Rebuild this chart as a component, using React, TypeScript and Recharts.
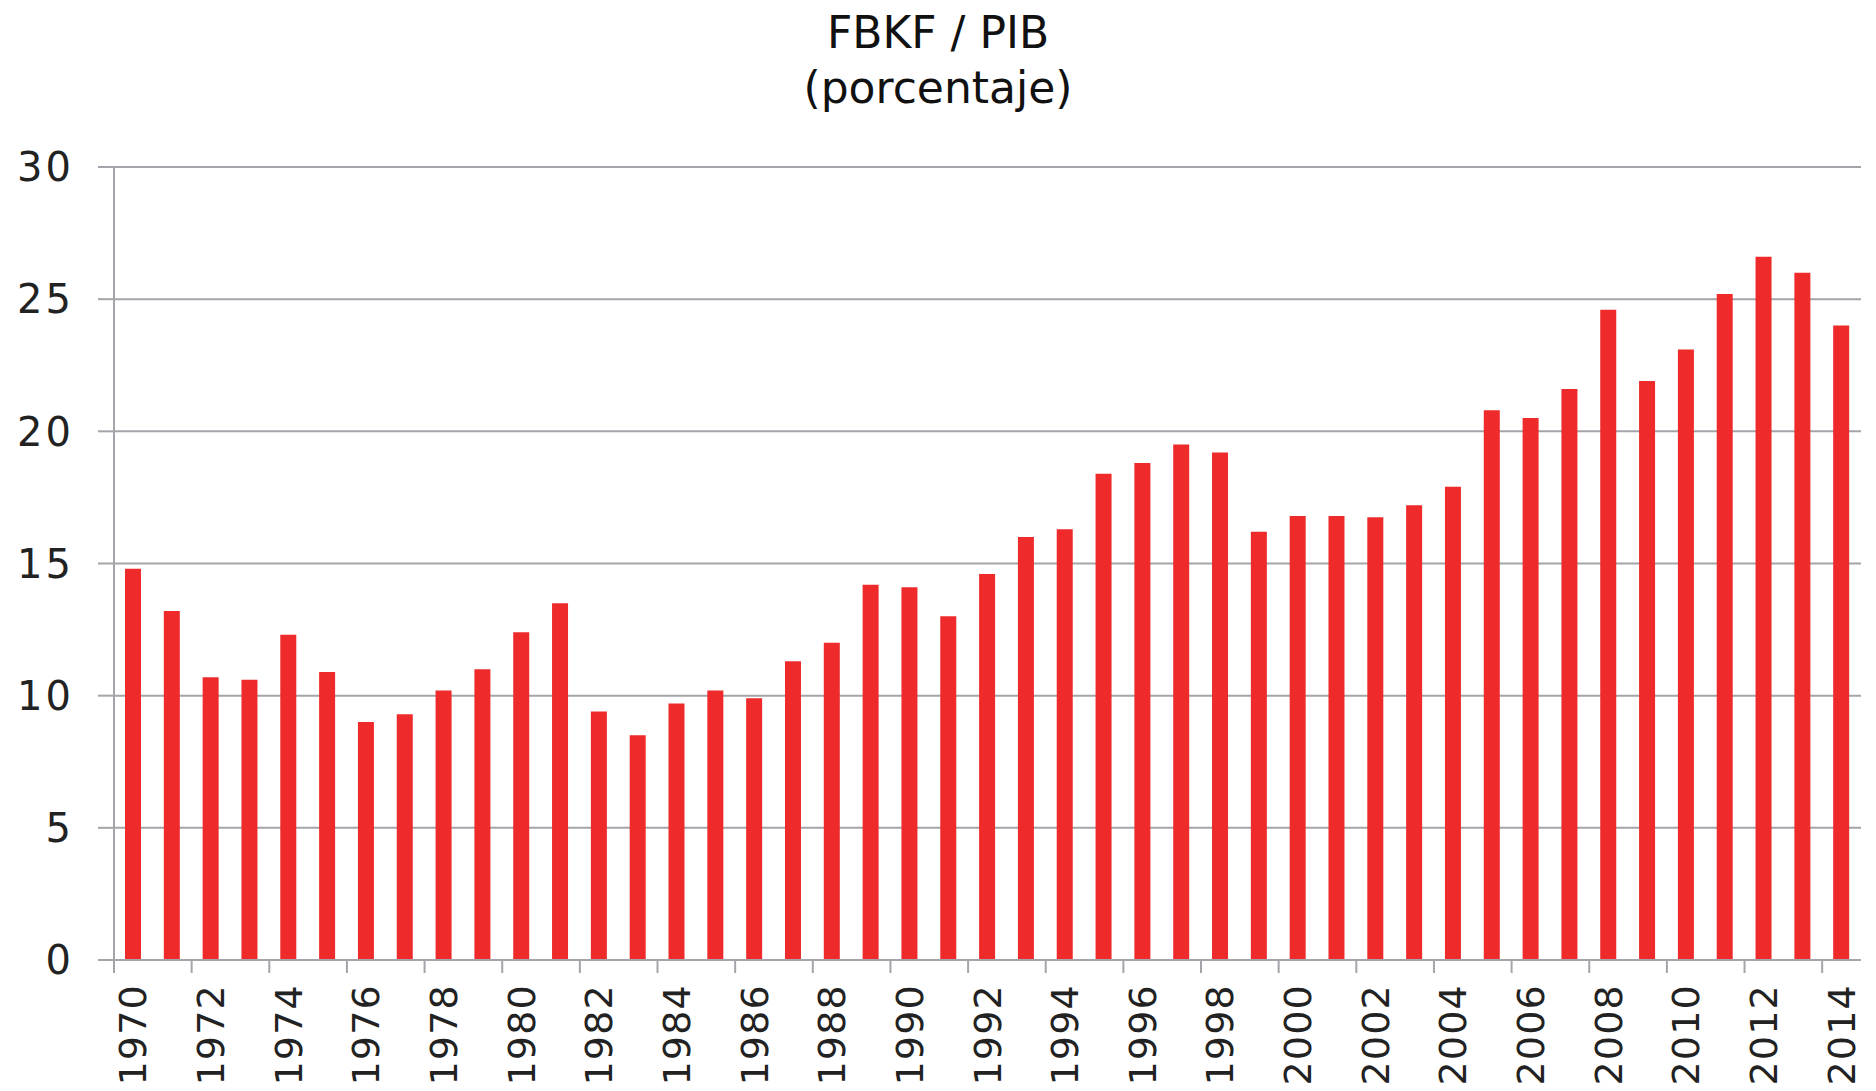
import { BarChart, Bar, XAxis, YAxis, CartesianGrid } from 'recharts'

const years = [
  '1970', '1971', '1972', '1973', '1974', '1975', '1976', '1977', '1978', '1979',
  '1980', '1981', '1982', '1983', '1984', '1985', '1986', '1987', '1988', '1989',
  '1990', '1991', '1992', '1993', '1994', '1995', '1996', '1997', '1998', '1999',
  '2000', '2001', '2002', '2003', '2004', '2005', '2006', '2007', '2008', '2009',
  '2010', '2011', '2012', '2013', '2014',
]

const fbkfPib = [
  14.8, 13.2, 10.7, 10.6, 12.3, 10.9, 9.0, 9.3, 10.2, 11.0,
  12.4, 13.5, 9.4, 8.5, 9.7, 10.2, 9.9, 11.3, 12.0, 14.2,
  14.1, 13.0, 14.6, 16.0, 16.3, 18.4, 18.8, 19.5, 19.2, 16.2,
  16.8, 16.8, 16.75, 17.2, 17.9, 20.8, 20.5, 21.6, 24.6, 21.9,
  23.1, 25.2, 26.6, 26.0, 24.0,
]

const yTicks = [0, 5, 10, 15, 20, 25, 30]

const W = 1876
const H = 1091
const LEFT = 114
const RIGHT = 15
const BAND = (W - LEFT - RIGHT) / years.length
const GRID = '#a4a5aa'
const FONT = '"DejaVu Sans", Verdana, sans-serif'

const data = years.map((year, i) => ({ year, value: fbkfPib[i] }))

// excel style: tick mark sits between categories, label under the bar
const XTick = (props: any) => {
  const { x, y, payload } = props
  const tx = x - BAND / 2
  return (
    <g>
      <line x1={tx} x2={tx} y1={y} y2={y + 13} stroke={GRID} strokeWidth={2} />
      <g transform={`translate(${x},${y + 24})`}>
        <text
          transform="rotate(-90)"
          textAnchor="end"
          dominantBaseline="central"
          fontSize={38}
          fontFamily={FONT}
          letterSpacing={1.2}
          fill="#222"
        >
          {payload.value}
        </text>
      </g>
    </g>
  )
}

const App = () => {
  return (
    <div style={{ position: 'absolute', left: 0, top: 0, width: W, height: H, background: '#fff' }}>
      <div
        style={{
          position: 'absolute',
          left: 0,
          top: 5,
          width: W,
          textAlign: 'center',
          fontFamily: FONT,
          fontSize: 44,
          lineHeight: '55px',
          color: '#111',
        }}
      >
        <div>FBKF / PIB</div>
        <div>(porcentaje)</div>
      </div>
      <BarChart
        width={W}
        height={H}
        data={data}
        margin={{ top: 167, right: RIGHT, left: 0, bottom: 0 }}
      >
        <CartesianGrid vertical={false} stroke={GRID} strokeWidth={2} />
        <XAxis
          dataKey="year"
          interval={1}
          height={131}
          tickSize={0}
          tickMargin={0}
          tickLine={false}
          axisLine={{ stroke: GRID, strokeWidth: 2 }}
          tick={<XTick />}
        />
        <YAxis
          width={LEFT}
          domain={[0, 30]}
          ticks={yTicks}
          tickSize={16}
          tickMargin={24}
          axisLine={{ stroke: GRID, strokeWidth: 2 }}
          tickLine={{ stroke: GRID, strokeWidth: 2 }}
          tick={{ fontSize: 40, fontFamily: FONT, fill: '#222', letterSpacing: 3 }}
        />
        <Bar dataKey="value" fill="#ee2a2a" barSize={16} isAnimationActive={false} />
      </BarChart>
    </div>
  )
}

export default App
